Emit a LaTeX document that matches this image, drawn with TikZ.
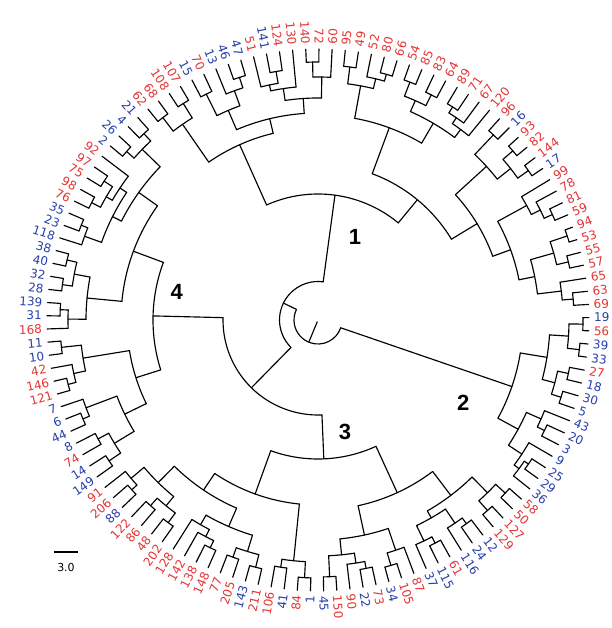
\documentclass[tikz,border=0pt]{standalone}
\usepackage{fontspec}
\usetikzlibrary{calc}
\newfontfamily\labfont{DejaVu Sans}
\newfontfamily\bigfont{Liberation Sans}
\definecolor{tipred}{RGB}{228,54,54}
\definecolor{tipblue}{RGB}{40,64,172}

\makeatletter
% geometry of the ring of tips (units are pt, origin at the root)
\def\Rleaf{271}
\def\Rlab{276}
\def\dA{2.7907}
\def\Azero{360.5}

% tip #1 (position, clockwise), text #2, colour #3
\newcommand\lf[3]{%
  \pgfmathsetmacro\lf@a{\Azero-(#1-1)*\dA}%
  \expandafter\xdef\csname dnA@L#1\endcsname{\lf@a}%
  \expandafter\xdef\csname dnR@L#1\endcsname{\Rleaf}%
  \pgfmathsetmacro\lf@c{cos(\lf@a+1)}%
  \ifdim\lf@c pt>0pt
    \node[tiplab,text=#3,anchor=west,rotate=\lf@a] (t#1) at (\lf@a:\Rlab pt) {#2};
  \else
    \pgfmathsetmacro\lf@b{\lf@a+180}%
    \node[tiplab,text=#3,anchor=east,rotate=\lf@b] (t#1) at (\lf@a:\Rlab pt) {#2};
  \fi
}
\newcommand\tipR[2]{\lf{#1}{#2}{tipred}}
\newcommand\tipB[2]{\lf{#1}{#2}{tipblue}}

% internal node #1 at radius #2 joining the children #3
\newcommand\nd[3]{%
  \def\nd@min{1000}\def\nd@max{-1000}%
  \@for\nd@c:=#3\do{%
    \edef\nd@ca{\csname dnA@\nd@c\endcsname}%
    \pgfmathsetmacro\nd@min{min(\nd@min,\nd@ca)}%
    \pgfmathsetmacro\nd@max{max(\nd@max,\nd@ca)}%
  }%
  \draw[br] (\nd@max:#2pt) arc[start angle=\nd@max, end angle=\nd@min, radius=#2pt];
  \@for\nd@c:=#3\do{%
    \edef\nd@ca{\csname dnA@\nd@c\endcsname}%
    \edef\nd@cr{\csname dnR@\nd@c\endcsname}%
    \draw[br] (\nd@ca:#2pt) -- (\nd@ca:\nd@cr pt);
  }%
  \pgfmathsetmacro\nd@a{(\nd@min+\nd@max)/2}%
  \expandafter\xdef\csname dnA@#1\endcsname{\nd@a}%
  \expandafter\xdef\csname dnR@#1\endcsname{#2}%
  \coordinate (#1) at (\nd@a:#2pt);
}
\makeatother

\tikzset{
  br/.style={line width=1.15pt, line cap=round, black},
  tiplab/.style={font=\labfont\fontsize{12}{12}\selectfont, inner sep=0pt},
  cladenum/.style={font=\bigfont\bfseries\fontsize{22}{22}\selectfont, inner sep=0pt},
}

\begin{document}
\begin{tikzpicture}[x=1pt,y=1pt]
\useasboundingbox[fill=white] (-318,-308) rectangle (293,320);

% ---- tips, clockwise from the east ----
\tipB{1}{19} \tipR{2}{56} \tipB{3}{39} \tipB{4}{33} \tipR{5}{27} \tipB{6}{18} \tipB{7}{30} \tipB{8}{5}
\tipB{9}{43} \tipB{10}{20} \tipB{11}{3} \tipB{12}{9} \tipB{13}{25} \tipB{14}{29} \tipB{15}{36}
\tipR{16}{58} \tipR{17}{50} \tipR{18}{127} \tipR{19}{129} \tipB{20}{12} \tipB{21}{24} \tipB{22}{116}
\tipR{23}{61} \tipB{24}{115} \tipB{25}{37} \tipR{26}{87} \tipR{27}{105} \tipB{28}{34} \tipR{29}{73}
\tipB{30}{22} \tipR{31}{90} \tipR{32}{150} \tipB{33}{45} \tipB{34}{1} \tipR{35}{84} \tipB{36}{41}
\tipR{37}{106} \tipR{38}{211} \tipB{39}{143} \tipR{40}{205} \tipR{41}{77} \tipR{42}{148} \tipR{43}{138}
\tipR{44}{142} \tipR{45}{128} \tipR{46}{202} \tipR{47}{48} \tipR{48}{86} \tipR{49}{122} \tipB{50}{88}
\tipR{51}{206} \tipR{52}{91} \tipB{53}{149} \tipB{54}{14} \tipR{55}{74} \tipB{56}{8} \tipB{57}{44}
\tipB{58}{6} \tipB{59}{7} \tipR{60}{121} \tipR{61}{146} \tipR{62}{42} \tipB{63}{10} \tipB{64}{11}
\tipR{65}{168} \tipB{66}{31} \tipB{67}{139} \tipB{68}{28} \tipB{69}{32} \tipB{70}{40} \tipB{71}{38}
\tipB{72}{118} \tipB{73}{23} \tipB{74}{35} \tipR{75}{76} \tipR{76}{98} \tipR{77}{75} \tipR{78}{97}
\tipR{79}{92} \tipB{80}{2} \tipB{81}{26} \tipB{82}{4} \tipB{83}{21} \tipR{84}{62} \tipR{85}{68}
\tipR{86}{108} \tipR{87}{107} \tipB{88}{15} \tipR{89}{70} \tipB{90}{13} \tipB{91}{46} \tipB{92}{47}
\tipR{93}{51} \tipB{94}{141} \tipR{95}{124} \tipR{96}{130} \tipR{97}{140} \tipR{98}{72} \tipR{99}{60}
\tipR{100}{95} \tipR{101}{49} \tipR{102}{52} \tipR{103}{80} \tipR{104}{66} \tipR{105}{54} \tipR{106}{85}
\tipR{107}{83} \tipR{108}{64} \tipR{109}{89} \tipR{110}{71} \tipR{111}{67} \tipR{112}{120} \tipR{113}{96}
\tipB{114}{16} \tipR{115}{93} \tipR{116}{82} \tipR{117}{144} \tipB{118}{17} \tipR{119}{99} \tipR{120}{78}
\tipR{121}{81} \tipR{122}{59} \tipR{123}{94} \tipR{124}{53} \tipR{125}{55} \tipR{126}{57} \tipR{127}{65}
\tipR{128}{63} \tipR{129}{69}

% ---- clade 2 ----
\nd{a1}{265}{L1,L2}
\nd{a2}{263}{L3,L4}
\nd{a3}{251}{a1,a2}
\nd{a4}{256}{L5,L6}
\nd{a5}{255}{L7,L8}
\nd{a6}{245}{a4,a5}
\nd{a7}{232}{a3,a6}
\nd{a8}{252}{L10,L11}
\nd{a9}{244}{L9,a8}
\nd{a10}{255}{L13,L14}
\nd{a11}{250}{a10,L15}
\nd{a12}{244}{L12,a11}
\nd{a13}{228}{a9,a12}
\nd{c2}{205}{a7,a13}

% ---- clade 3 ----
\nd{b1}{255}{L16,L17}
\nd{b2}{255}{L18,L19}
\nd{b3}{242}{b1,b2}
\nd{b4}{252}{L20,L21}
\nd{b5}{245}{b4,L22}
\nd{b7}{252}{L23,L24}
\nd{b8}{245}{b7,L25}
\nd{bL}{228}{b5,b8}
\nd{s1}{220}{b3,bL}
\nd{c5}{256}{L27,L28}
\nd{c6}{243}{L26,c5}
\nd{cc2}{253}{L29,L30}
\nd{cc3}{246}{cc2,L31}
\nd{cc1}{257}{L32,L33}
\nd{cc4}{236}{cc3,cc1}
\nd{s2}{220}{c6,cc4}
\nd{t1}{190}{s1,s2}
\nd{d1}{258}{L34,L35}
\nd{d2}{250}{L36,L37}
\nd{s3}{242}{d1,d2}
\nd{e1}{255}{L38,L39}
\nd{e2}{252}{L40,L41}
\nd{e3}{242}{e1,e2}
\nd{e4}{252}{L42,L43}
\nd{e5}{244}{e4,L44}
\nd{e5b}{236}{e5,L45}
\nd{eA}{225}{e3,e5b}
\nd{e9}{252}{L46,L47}
\nd{e10}{250}{L48,L49}
\nd{e11}{240}{e9,e10}
\nd{e12}{252}{L50,L51}
\nd{e12b}{245}{e12,L52}
\nd{eB}{228}{e11,e12b}
\nd{eG}{205}{eA,eB}
\nd{s3x}{185}{s3,eG}
\nd{c3}{139}{t1,s3x}

% ---- clade 4 ----
\nd{f1}{252}{L53,L54}
\nd{f2}{250}{L55,L56}
\nd{f3}{238}{f1,f2}
\nd{f4}{255}{L57,L58}
\nd{f5}{248}{f4,L59}
\nd{Dlow}{215}{f3,f5}
\nd{f6}{258}{L60,L61}
\nd{f7}{250}{f6,L62}
\nd{f8}{258}{L63,L64}
\nd{g3}{238}{f7,f8}
\nd{D}{191}{Dlow,g3}
\nd{f9}{258}{L66,L67}
\nd{f10}{250}{L65,f9}
\nd{f12}{258}{L68,L69}
\nd{f13}{258}{L70,L71}
\nd{f14}{248}{f12,f13}
\nd{g5}{232}{f10,f14}
\nd{f15}{255}{L73,L74}
\nd{f16}{248}{L72,f15}
\nd{f17}{255}{L75,L76}
\nd{f18}{255}{L77,L78}
\nd{f19}{245}{f17,f18}
\nd{f20}{238}{f19,L79}
\nd{f21}{230}{f16,f20}
\nd{f22}{255}{L80,L81}
\nd{f23}{255}{L82,L83}
\nd{f24}{245}{f22,f23}
\nd{f25}{220}{f21,f24}
\nd{U}{197}{g5,f25}
\nd{c4}{165}{D,U}

% ---- clade 1 ----
\nd{h1}{255}{L84,L85}
\nd{h2}{255}{L86,L87}
\nd{CLa}{238}{h1,h2}
\nd{x1}{252}{L88,L89}
\nd{x2}{255}{L91,L92}
\nd{x3}{244}{L90,x2}
\nd{CLb1}{228}{x1,x3}
\nd{ga}{252}{L94,L95}
\nd{gb}{240}{L93,ga}
\nd{gc}{234}{gb,L96}
\nd{gd}{258}{L97,L98}
\nd{ge}{243}{gd,L99}
\nd{G}{222}{gc,ge}
\nd{CLb}{207}{CLb1,G}
\nd{CL}{192}{CLa,CLb}
\nd{i1}{255}{L100,L101}
\nd{i2}{255}{L103,L104}
\nd{i3}{248}{L102,i2}
\nd{i4}{238}{i1,i3}
\nd{i5}{255}{L105,L106}
\nd{i6}{252}{L107,L108}
\nd{i7}{240}{i5,i6}
\nd{i8}{252}{L109,L110}
\nd{i9}{245}{i8,L111}
\nd{i10}{238}{i9,L112}
\nd{i11}{228}{i7,i10}
\nd{CRa}{205}{i4,i11}
\nd{j1}{255}{L113,L114}
\nd{j2}{258}{L115,L116}
\nd{j3}{258}{L117,L118}
\nd{j4}{245}{j2,j3}
\nd{j5}{228}{j1,j4}
\nd{k1}{257}{L121,L122}
\nd{k2}{248}{L120,k1}
\nd{k3}{238}{L119,k2}
\nd{k4}{263}{L123,L124}
\nd{k5}{257}{L125,L126}
\nd{k6}{245}{k4,k5}
\nd{k7}{256}{L128,L129}
\nd{k8}{245}{L127,k7}
\nd{k9}{221}{k6,k8}
\nd{k10}{205}{k3,k9}
\nd{CRb}{186}{j5,k10}
\nd{CR}{156}{CRa,CRb}
\nd{c1}{126}{CL,CR}

% ---- backbone ----
\nd{B}{95}{c3,c4}
\nd{A}{38.5}{c1,B}
\nd{root}{24}{c2,A}
\coordinate (rootbase) at (\csname dnA@root\endcsname:2pt);
\draw[br] (rootbase) -- (root);

% ---- clade numbers ----
\node[cladenum] (num1) at (37,83.3) {1};
\node[cladenum] (num2) at (145.3,-83.3) {2};
\node[cladenum] (num3) at (27,-111.7) {3};
\node[cladenum] (num4) at (-141.3,28.3) {4};

% ---- scale bar ----
\coordinate (sbl) at (-264,-232);
\coordinate (sbr) at (-240,-232);
\draw[line width=1.6pt] (sbl) -- (sbr);
\node[font=\labfont\fontsize{11}{11}\selectfont, anchor=north] (sblab) at ($(sbl)!0.5!(sbr)+(0,-8)$) {3.0};
\end{tikzpicture}
\end{document}
